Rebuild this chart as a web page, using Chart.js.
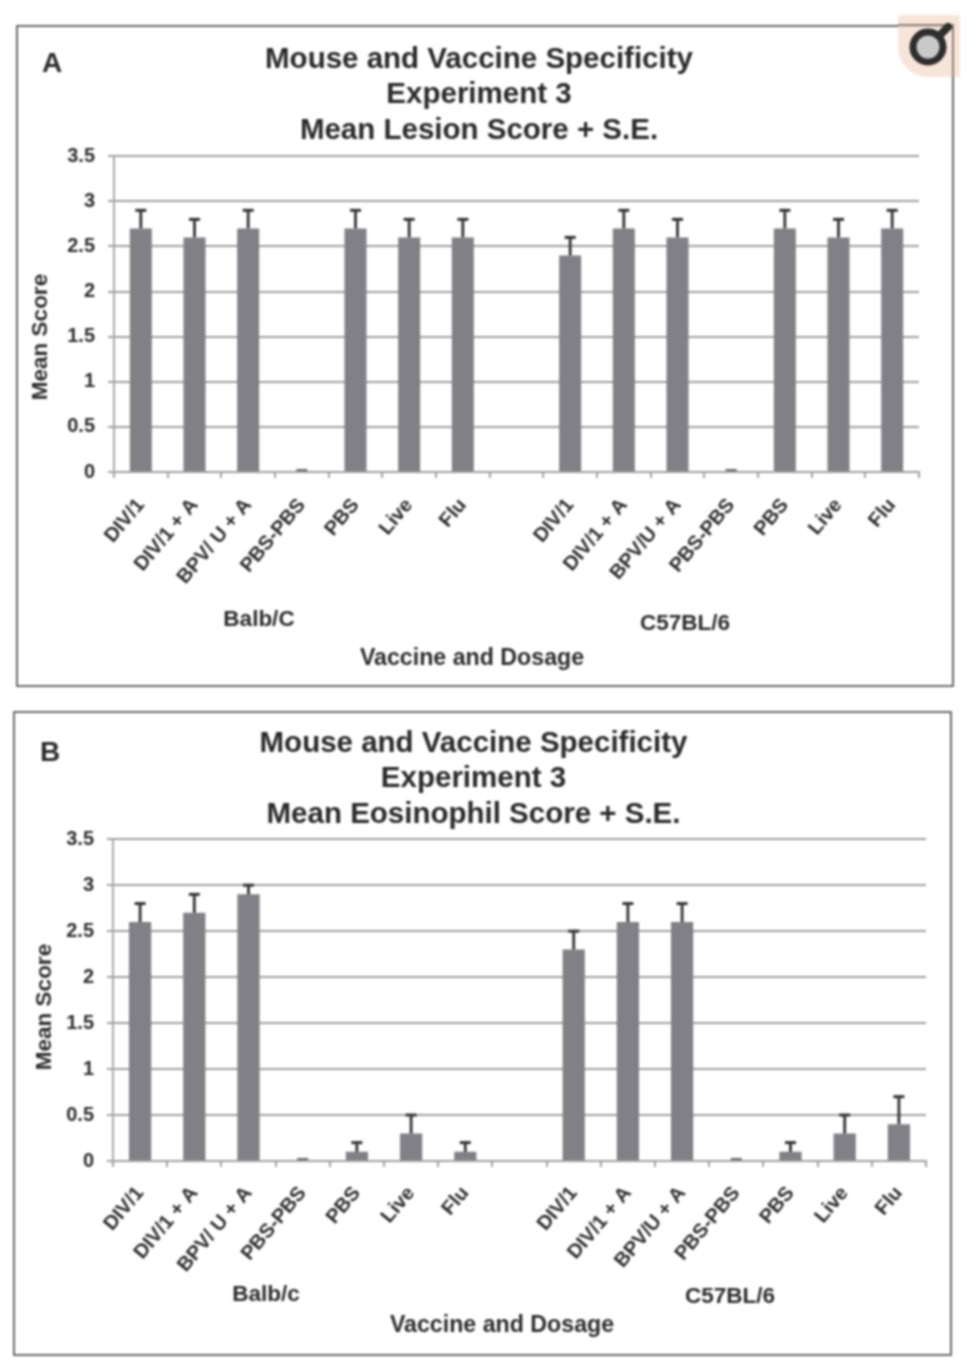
<!DOCTYPE html>
<html lang="en">
<head>
<meta charset="UTF-8">
<title>Mouse and Vaccine Specificity</title>
<style>
    html, body { margin: 0; padding: 0; background: #fff; }
    body { position: relative; width: 968px; height: 1366px; overflow: hidden; font-family: "Liberation Sans", Arial, sans-serif; }
    #page { position: absolute; left: 0; top: 0; width: 968px; height: 1366px; background: #fff; filter: blur(0.8px); }
    .panel { position: absolute; border: 2px solid #6a6a6a; box-sizing: border-box; }
    canvas { position: absolute; }
    .label { position: absolute; font-weight: bold; color: #2c2c2c; white-space: nowrap; transform: translate(-50%, -50%); line-height: 1; }
    #badge { position: absolute; left: 898px; top: 15px; }
</style>
</head>
<body>
<div id="page">
<div class="panel" style="left:16px;top:25px;width:938px;height:662px"></div>
<div class="panel" style="left:13px;top:711px;width:939px;height:645px"></div>
<canvas id="chartA" width="918" height="650" style="left:20px;top:30px"></canvas>
<canvas id="chartB" width="916" height="630" style="left:21px;top:720px"></canvas>
<svg id="badge" width="62" height="62">
    <path d="M0 0H62V62H30A30 30 0 0 1 0 32Z" fill="#f7e0d3" opacity="0.85"/>
    <path d="M0 10H55V62" fill="none" stroke="#8a8078" stroke-width="2"/>
    <line x1="41" y1="21" x2="50" y2="12" stroke="#2e2e2e" stroke-width="8" stroke-linecap="round"/>
    <circle cx="30" cy="32" r="15" fill="#c9c9c9" stroke="#2e2e2e" stroke-width="7"/>
</svg>
</div>

<script src="https://cdn.jsdelivr.net/npm/chart.js"></script>
<script>
    const categoriesA = ['DIV/1', 'DIV/1 + A', 'BPV/ U + A', 'PBS-PBS', 'PBS', 'Live', 'Flu', '',
        'DIV/1', 'DIV/1 + A', 'BPV/U + A', 'PBS-PBS', 'PBS', 'Live', 'Flu'];
    const valuesA = [2.7, 2.6, 2.7, 0, 2.7, 2.6, 2.6, null, 2.4, 2.7, 2.6, 0, 2.7, 2.6, 2.7];
    const errorsA = [0.2, 0.2, 0.2, 0, 0.2, 0.2, 0.2, null, 0.2, 0.2, 0.2, 0, 0.2, 0.2, 0.2];

    const categoriesB = ['DIV/1', 'DIV/1 + A', 'BPV/ U + A', 'PBS-PBS', 'PBS', 'Live', 'Flu', '',
        'DIV/1', 'DIV/1 + A', 'BPV/U + A', 'PBS-PBS', 'PBS', 'Live', 'Flu'];
    const valuesB = [2.6, 2.7, 2.9, 0, 0.1, 0.3, 0.1, null, 2.3, 2.6, 2.6, 0, 0.1, 0.3, 0.4];
    const errorsB = [0.2, 0.2, 0.1, 0, 0.1, 0.2, 0.1, null, 0.2, 0.2, 0.2, 0, 0.1, 0.2, 0.3];

    const titleA = ['Mouse and Vaccine Specificity', 'Experiment 3', 'Mean Lesion Score + S.E.'];
    const titleB = ['Mouse and Vaccine Specificity', 'Experiment 3', 'Mean Eosinophil Score + S.E.'];

    // error bars with a cap, Excel style
    const errorBars = {
        id: 'errorBars',
        afterDatasetsDraw(chart, args, opts) {
            const ctx = chart.ctx;
            const y = chart.scales.y;
            const meta = chart.getDatasetMeta(0);
            ctx.save();
            ctx.strokeStyle = '#333335';
            opts.errors.forEach(function(err, i) {
                if (err === null) return;
                const x = meta.data[i].x;
                const y0 = y.getPixelForValue(chart.data.datasets[0].data[i]);
                const y1 = y.getPixelForValue(chart.data.datasets[0].data[i] + err);
                ctx.lineWidth = 2.8;
                ctx.beginPath();
                ctx.moveTo(x, y0);
                ctx.lineTo(x, y1);
                ctx.stroke();
                ctx.lineWidth = err === 0 ? 1.5 : 3;
                ctx.beginPath();
                ctx.moveTo(x - 5.5, err === 0 ? y1 - 2 : y1);
                ctx.lineTo(x + 5.5, err === 0 ? y1 - 2 : y1);
                ctx.stroke();
            });
            ctx.restore();
        }
    };

    function createPanel(id, categories, values, errors, title, g) {
        new Chart(document.getElementById(id).getContext('2d'), {
            type: 'bar',
            data: {
                labels: categories,
                datasets: [{
                    data: values,
                    backgroundColor: '#808086',
                    barPercentage: 0.41,
                    categoryPercentage: 1
                }]
            },
            plugins: [errorBars],
            options: {
                responsive: false,
                animation: false,
                layout: { padding: { left: g.left, right: g.right } },
                plugins: {
                    legend: { display: false },
                    tooltip: { enabled: false },
                    errorBars: { errors: errors },
                    title: {
                        display: true,
                        text: title,
                        color: '#2a2a2a',
                        font: { family: '"Liberation Sans"', size: 29.5, weight: 'bold', lineHeight: 1.2 },
                        padding: { top: g.titleTop, bottom: g.titleBottom }
                    }
                },
                scales: {
                    x: {
                        afterFit(scale) { scale.height = g.xHeight; },
                        grid: { offset: true, drawOnChartArea: false, color: '#a0a0a0', lineWidth: 2, tickLength: 6 },
                        border: { color: '#a0a0a0', width: 2 },
                        ticks: {
                            autoSkip: false,
                            minRotation: 50,
                            maxRotation: 50,
                            padding: g.xPad,
                            color: '#2c2c2c',
                            font: { family: '"Liberation Sans"', size: 20, weight: 'bold' }
                        }
                    },
                    y: {
                        min: 0,
                        max: 3.5,
                        afterFit(scale) { scale.width = g.yWidth; },
                        grid: { color: '#a0a0a0', lineWidth: 2, tickLength: 6 },
                        border: { color: '#a8a8a8', width: 2 },
                        ticks: {
                            stepSize: 0.5,
                            padding: 13,
                            color: '#2c2c2c',
                            font: { family: '"Liberation Sans"', size: 20, weight: 'bold' },
                            callback: function(v) { return String(v); }
                        }
                    }
                }
            }
        });
    }

    function addLabel(text, cx, cy, size, rotate) {
        const el = document.createElement('div');
        el.className = 'label';
        el.textContent = text;
        el.style.left = cx + 'px';
        el.style.top = cy + 'px';
        el.style.fontSize = size + 'px';
        if (rotate) el.style.transform = 'translate(-50%, -50%) rotate(-90deg)';
        document.getElementById('page').appendChild(el);
    }

    createPanel('chartA', categoriesA, valuesA, errorsA, titleA,
        { left: 19, right: 19, titleTop: 12, titleBottom: 8, xHeight: 208, yWidth: 75, xPad: 16 });
    createPanel('chartB', categoriesB, valuesB, errorsB, titleB,
        { left: 0, right: 11, titleTop: 6, titleBottom: 7, xHeight: 189, yWidth: 92, xPad: 15 });

    addLabel('A', 52, 63, 28);
    addLabel('Mean Score', 40, 337, 22.5, true);
    addLabel('Balb/C', 259, 619, 22.5);
    addLabel('C57BL/6', 685, 623, 22.5);
    addLabel('Vaccine and Dosage', 472, 658, 23.2);

    addLabel('B', 50, 752, 28);
    addLabel('Mean Score', 44, 1007, 22.5, true);
    addLabel('Balb/c', 266, 1294, 22.5);
    addLabel('C57BL/6', 730, 1296, 22.5);
    addLabel('Vaccine and Dosage', 502, 1325, 23.2);
</script>
</body>
</html>
